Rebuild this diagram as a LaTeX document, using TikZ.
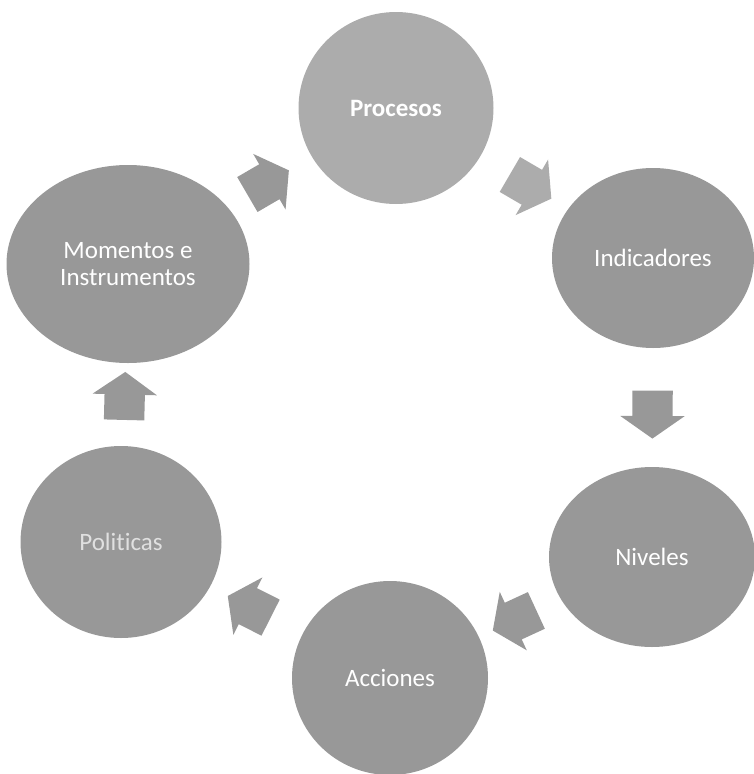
\documentclass[tikz,border=0pt]{standalone}
\usepackage{fontspec}
\setmainfont{Carlito}[RawFeature={-liga}]
\usetikzlibrary{shapes.geometric,shapes.arrows,calc}
\definecolor{bubble}{RGB}{152,152,152}
\definecolor{bubblelight}{RGB}{172,172,172}
\begin{document}
\begin{tikzpicture}[x=1pt,y=-1pt,
  bubble/.style={ellipse,fill=bubble,text=white,inner sep=0pt,align=center,
    font=\fontsize{25}{27}\selectfont},
  blockarrow/.style={single arrow,inner xsep=0pt,inner ysep=20pt,minimum height=48pt,
    single arrow head extend=12pt,single arrow tip angle=110}]
\useasboundingbox (0,0) rectangle (754,774);
\node[bubble,fill=bubblelight,minimum width=195pt,minimum height=192pt,font=\fontsize{25}{27}\selectfont\bfseries] (procesos) at (396,108) {Procesos};
\node[bubble,minimum width=202pt,minimum height=180pt] (indicadores) at (653,258) {Indicadores};
\node[bubble,minimum width=206pt,minimum height=180pt] (niveles) at (652,557) {Niveles};
\node[bubble,minimum width=196pt,minimum height=194pt] (acciones) at (390,678) {Acciones};
\node[bubble,text=white!88!black,minimum width=201pt,minimum height=192pt] (politicas) at (121,542) {Politicas};
\node[bubble,minimum width=243pt,minimum height=198pt] (momentos) at (128,264) {Momentos e\\Instrumentos};
\foreach \a/\b/\c in {procesos/indicadores/bubblelight,indicadores/niveles/bubble,niveles/acciones/bubble,
  acciones/politicas/bubble,politicas/momentos/bubble,momentos/procesos/bubble}
  \path let \p1=($(\b)-(\a)$), \n1={atan2(\y1,\x1)} in
    node[blockarrow,fill=\c,rotate=\n1] (\a-\b) at ($(\a)!0.5!(\b)$) {};
\end{tikzpicture}
\end{document}
